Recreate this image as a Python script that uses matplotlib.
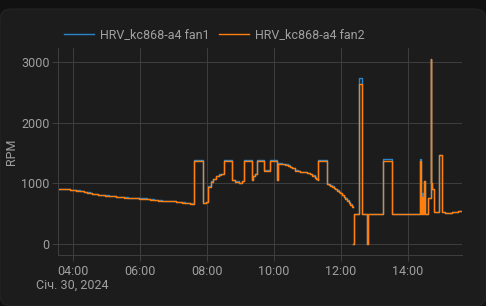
import numpy as np
import matplotlib
matplotlib.use("Agg")
import matplotlib.pyplot as plt
import matplotlib.dates as mdates
from matplotlib.patches import FancyBboxPatch
from matplotlib.transforms import IdentityTransform
import pandas as pd

# fan speed history, Jan 30 2024
times = ["03:35", "03:45", "03:55", "04:05", "04:13", "04:20", "04:25", "04:30",
         "04:34", "04:40", "04:45", "04:50", "04:57", "05:05", "05:10", "05:17",
         "05:24", "05:31", "05:38", "05:45", "05:51", "05:58", "06:05", "06:12",
         "06:18", "06:25", "06:32", "06:39", "06:45", "06:52", "06:57", "07:04",
         "07:11", "07:16", "07:20", "07:25", "07:29", "07:33", "07:37", "07:52",
         "07:58", "08:02", "08:07", "08:11", "08:16", "08:22", "08:25", "08:30",
         "08:44", "08:50", "08:57", "09:03", "09:07", "09:21", "09:23", "09:26",
         "09:29", "09:43", "09:52", "10:06", "10:08", "10:14", "10:20", "10:25",
         "10:29", "10:33", "10:38", "10:43", "10:47", "10:53", "10:59", "11:04",
         "11:08", "11:13", "11:16", "11:18", "11:19", "11:35", "11:38", "11:41",
         "11:44", "11:47", "11:50", "11:53", "11:56", "11:59", "12:02", "12:05",
         "12:08", "12:11", "12:14", "12:17", "12:20", "12:21", "12:22", "12:22",
         "12:23", "12:33", "12:38", "12:47", "12:48", "13:16", "13:31", "14:21",
         "14:23", "14:26", "14:27", "14:29", "14:30", "14:36", "14:41", "14:42",
         "14:44", "14:46", "14:55", "15:01", "15:06", "15:19", "15:29", "15:36"]

fan1 = [913, 910, 895, 884, 872, 862, 852, 844,
        832, 822, 812, 807, 802, 797, 792, 784,
        777, 772, 767, 762, 757, 754, 752, 744,
        737, 730, 722, 717, 712, 709, 707, 700,
        692, 687, 682, 677, 672, 669, 1390, 682,
        702, 952, 1032, 1077, 1127, 1147, 1157, 1390,
        1062, 1032, 1007, 1042, 1390, 1052, 1127, 1162,
        1390, 1212, 1390, 1052, 1327, 1322, 1312, 1294,
        1277, 1249, 1212, 1202, 1192, 1184, 1172, 1154,
        1132, 1097, 1079, 1062, 1390, 997, 984, 966,
        949, 929, 906, 884, 862, 839, 812, 784,
        754, 722, 689, 656, 624, 614, np.nan, 0,
        500, 2740, 500, 0, 500, 1400, 500, 1400,
        500, 850, 500, 1040, 500, 760, 3050, 1000,
        900, 530, 1470, 530, 515, 525, 545, 540]

fan2 = [908, 905, 890, 880, 868, 858, 848, 840,
        828, 818, 808, 803, 798, 793, 788, 780,
        773, 768, 763, 758, 753, 750, 748, 740,
        733, 726, 718, 713, 708, 705, 703, 696,
        688, 683, 678, 673, 668, 665, 1360, 678,
        698, 948, 1028, 1073, 1123, 1143, 1153, 1360,
        1058, 1028, 1003, 1038, 1360, 1048, 1123, 1158,
        1360, 1208, 1360, 1048, 1323, 1318, 1308, 1290,
        1273, 1245, 1208, 1198, 1188, 1180, 1168, 1150,
        1128, 1093, 1075, 1058, 1360, 993, 980, 962,
        945, 925, 902, 880, 858, 835, 808, 780,
        750, 718, 685, 652, 620, 610, np.nan, 0,
        500, 2630, 500, 0, 500, 1360, 500, 1360,
        500, 780, 500, 1040, 500, 760, 3050, 1000,
        900, 530, 1470, 530, 515, 525, 545, 540]

t = pd.to_datetime(["2024-01-30 " + s for s in times])

bg = "#111111"
card = "#1c1c1c"
grid_c = "#3d3d3d"
txt = "#a0a0a0"

plt.rcParams["font.family"] = ["Roboto", "DejaVu Sans"]

fig = plt.figure(figsize=(4.86, 3.06), dpi=100, facecolor=bg)
fig.patches.append(FancyBboxPatch((0, 0), 486, 297, boxstyle="round,pad=0,rounding_size=11",
                                  transform=IdentityTransform(), facecolor=card,
                                  edgecolor="#262626", linewidth=0.7, zorder=-5))

ax = fig.add_axes([58 / 486, 1 - 255 / 306, (461.5 - 58) / 486, (255 - 48) / 306])
ax.set_facecolor(card)

ax.plot(t, fan1, drawstyle="steps-post", color="#2a86cc", lw=1.0, label="HRV_kc868-a4 fan1")
ax.plot(t, fan2, drawstyle="steps-post", color="#ff7f0e", lw=1.0, label="HRV_kc868-a4 fan2")

ax.set_xlim(pd.Timestamp("2024-01-30 03:33"), pd.Timestamp("2024-01-30 15:36"))
ax.set_ylim(-177, 3225)
ax.set_yticks([0, 1000, 2000, 3000])
ax.xaxis.set_major_locator(mdates.HourLocator(byhour=range(0, 24, 2)))
ax.xaxis.set_major_formatter(mdates.DateFormatter("%H:%M"))

ax.grid(True, color=grid_c, lw=0.75)
ax.tick_params(colors=grid_c, labelcolor=txt, labelsize=9, length=4, width=0.75)
ax.tick_params(axis="y", pad=2)
ax.tick_params(axis="x", pad=3)
for side in ["top", "right"]:
    ax.spines[side].set_visible(False)
for side in ["left", "bottom"]:
    ax.spines[side].set_color(grid_c)
    ax.spines[side].set_linewidth(0.75)

ax.set_ylabel("RPM", color=txt, fontsize=9)
ax.yaxis.set_label_coords((18 - 58) / 403.5, 0.5)

fig.text(36 / 486, 1 - 285 / 306, "Січ. 30, 2024", color=txt, fontsize=9, va="center", ha="left")

fig.legend(loc="center left", bbox_to_anchor=(64 / 486, 1 - 35 / 306), ncol=2, frameon=False,
           fontsize=9, labelcolor=txt, handlelength=2.4, handletextpad=0.45,
           columnspacing=0.8, borderpad=0, borderaxespad=0)

fig.savefig("out.png", dpi=100, facecolor=bg)
